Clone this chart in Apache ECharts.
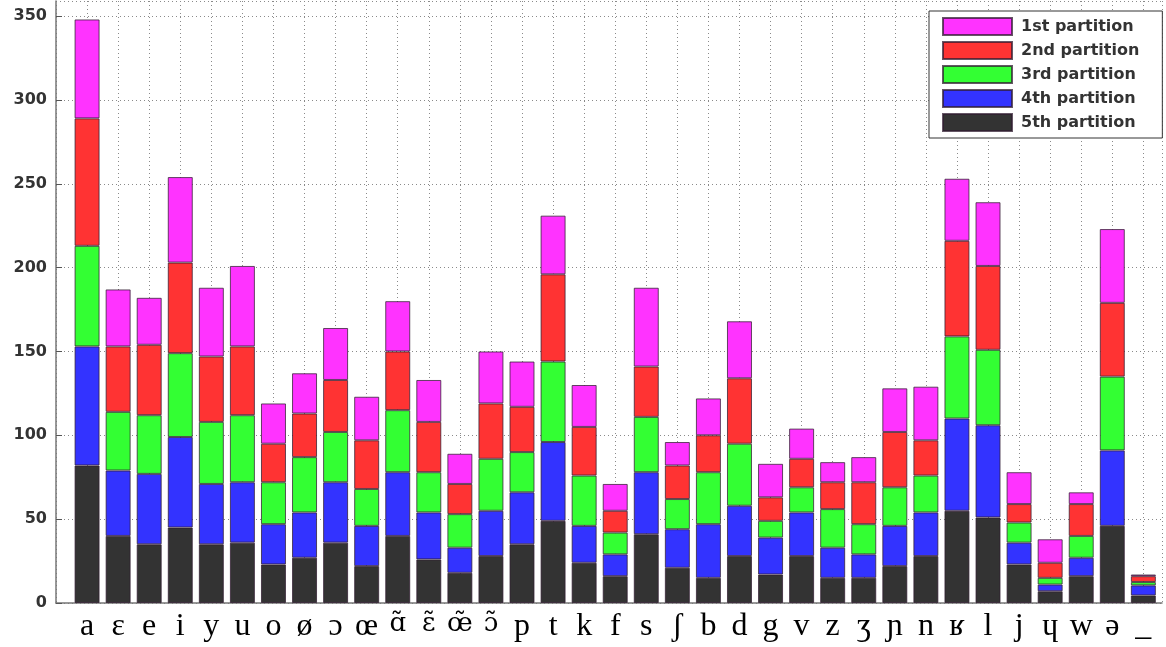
<!DOCTYPE html>
<html>
<head>
<meta charset="utf-8">
<script src="https://cdn.jsdelivr.net/npm/echarts@6/dist/echarts.min.js"></script>
<style>
html,body{margin:0;padding:0;background:#fff;}
#chart{width:1166px;height:647px;}
</style>
</head>
<body>
<div id="chart"></div>
<script>
const categories = ['a','ɛ','e','i','y','u','o','ø','ɔ','œ','ɑ̃','ɛ̃','œ̃','ɔ̃','p','t','k','f','s','ʃ','b','d','g','v','z','ʒ','ɲ','n','ʁ','l','j','ɥ','w','ə','_'];
const seriesNames = ['1st partition','2nd partition','3rd partition','4th partition','5th partition'];
const part5 = [82,40,35,45,35,36,23,27,36,22,40,26,18,28,35,49,24,16,41,21,15,28,17,28,15,15,22,28,55,51,23,7,16,46,4.5];
const part4 = [71,39,42,54,36,36,24,27,36,24,38,28,15,27,31,47,22,13,37,23,32,30,22,26,18,14,24,26,55,55,13,4,11,45,6];
const part3 = [60,35,35,50,37,40,25,33,30,22,37,24,20,31,24,48,30,13,33,18,31,37,10,15,23,18,23,22,49,45,12,4,13,44,2];
const part2 = [76,39,42,54,39,41,23,26,31,29,35,30,18,33,27,52,29,13,30,20,22,39,14,17,16,25,33,21,57,50,11,9,19,44,3.5];
const part1 = [59,34,28,51,41,48,24,24,31,26,30,25,18,31,27,35,25,16,47,14,22,34,20,18,12,15,26,32,37,38,19,14,7,44,1];
const yTicks = [0,50,100,150,200,250,300,350];

const colors = {
  '1st partition':'#ff33ff',
  '2nd partition':'#ff3333',
  '3rd partition':'#33ff33',
  '4th partition':'#3333ff',
  '5th partition':'#333333'
};
const stackOrder = [
  ['5th partition', part5],
  ['4th partition', part4],
  ['3rd partition', part3],
  ['2nd partition', part2],
  ['1st partition', part1]
];

const chart = echarts.init(document.getElementById('chart'), null, {renderer:'canvas'});
const gridStyle = {show:true, lineStyle:{type:[1,3], color:'#8a8a8a', width:1}};
chart.setOption({
  animation:false,
  backgroundColor:'#ffffff',
  grid:{left:56, right:4, top:1, bottom:44, containLabel:false},
  legend:{
    data:seriesNames,
    orient:'vertical',
    left:929, top:11,
    padding:[6,23,6,13],
    itemWidth:69, itemHeight:17, itemGap:5,
    icon:'rect',
    borderColor:'#333', borderWidth:1,
    backgroundColor:'#ffffff',
    textStyle:{fontFamily:'DejaVu Sans', fontWeight:'bold', fontSize:16, lineHeight:17, color:'#333', padding:[0,0,0,4]}
  },
  xAxis:{
    type:'value', min:0, max:35.6, interval:1,
    axisLine:{show:true, onZero:false, lineStyle:{color:'#777', width:1.5}},
    axisTick:{show:false},
    splitLine:gridStyle,
    axisLabel:{
      showMaxLabel:false, showMinLabel:false,
      margin:8,
      fontFamily:'Liberation Serif', fontSize:32, color:'#000',
      formatter:function(v){
        if (!(Number.isInteger(v) && v>=1 && v<=categories.length)) return '';
        const c = categories[v-1];
        return c.length > 1 ? '{n|' + c + '}' : c;
      },
      rich:{n:{fontFamily:'DejaVu Serif', fontSize:26, color:'#000'}}
    }
  },
  yAxis:{
    type:'value', min:0, max:359, interval:50,
    axisLine:{show:true, lineStyle:{color:'#777', width:1.5}},
    axisTick:{show:true, inside:true, length:6, lineStyle:{color:'#555'}},
    splitLine:gridStyle,
    axisLabel:{
      margin:9, showMaxLabel:false, padding:[4,0,0,0],
      fontFamily:'DejaVu Sans', fontWeight:'bold', fontSize:16, color:'#333',
      formatter:function(v){ return yTicks.indexOf(v) >= 0 ? String(v) : ''; }
    }
  },
  series: stackOrder.map(function(s){
    return {
      name:s[0], type:'bar', stack:'total', barWidth:25,
      encode:{x:1, y:0},
      itemStyle:{color:colors[s[0]], borderColor:'rgba(50,30,50,0.75)', borderWidth:1},
      data:s[1].map(function(v,i){ return [v, i+1]; })
    };
  })
});
</script>
</body>
</html>
